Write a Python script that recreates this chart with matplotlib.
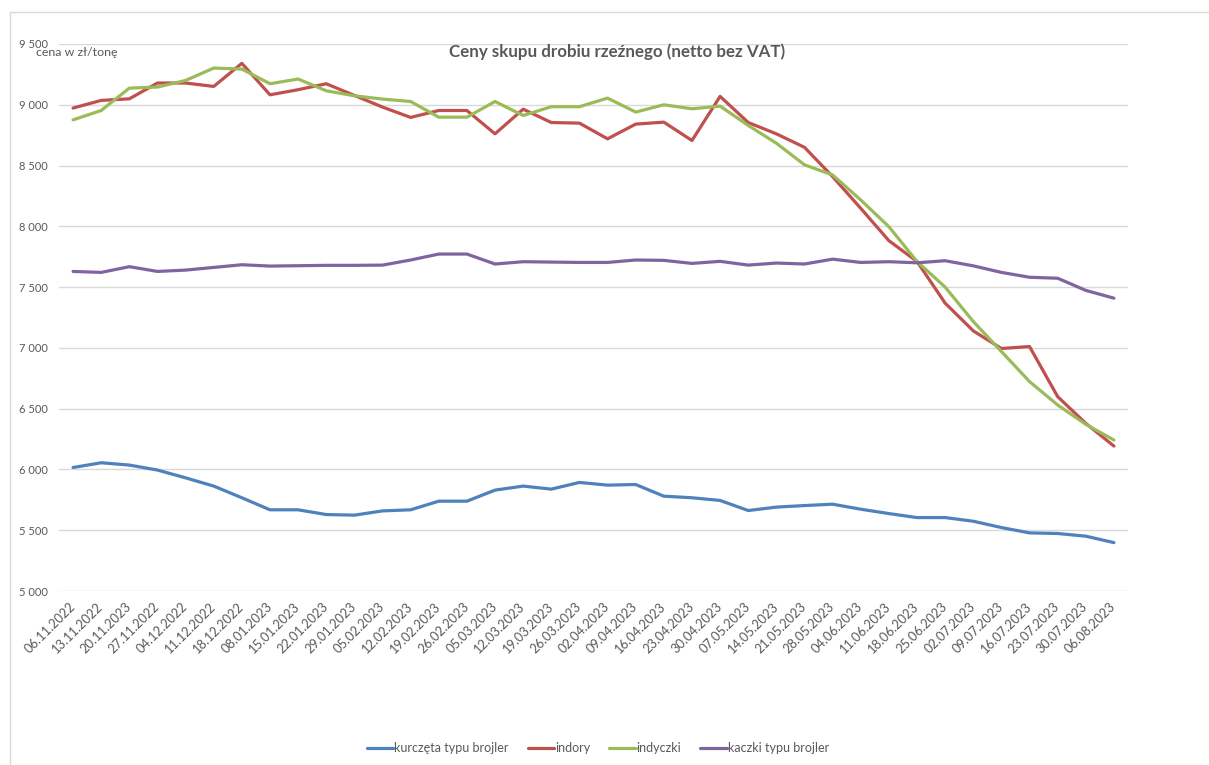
import matplotlib
matplotlib.use("Agg")
import matplotlib.pyplot as plt
from matplotlib.ticker import FuncFormatter
from matplotlib.lines import Line2D

# dane (zł/tonę)
daty = ["06.11.2022", "13.11.2022", "20.11.2023", "27.11.2022", "04.12.2022",
        "11.12.2022", "18.12.2022", "08.01.2023", "15.01.2023", "22.01.2023",
        "29.01.2023", "05.02.2023", "12.02.2023", "19.02.2023", "26.02.2023",
        "05.03.2023", "12.03.2023", "19.03.2023", "26.03.2023", "02.04.2023",
        "09.04.2023", "16.04.2023", "23.04.2023", "30.04.2023", "07.05.2023",
        "14.05.2023", "21.05.2023", "28.05.2023", "04.06.2023", "11.06.2023",
        "18.06.2023", "25.06.2023", "02.07.2023", "09.07.2023", "16.07.2023",
        "23.07.2023", "30.07.2023", "06.08.2023"]

kurczeta = [6016, 6055, 6036, 5995, 5931, 5863, 5767, 5668, 5668, 5629,
            5624, 5659, 5668, 5739, 5739, 5830, 5863, 5838, 5893, 5871,
            5876, 5780, 5767, 5745, 5662, 5690, 5703, 5714, 5673, 5637,
            5604, 5604, 5574, 5522, 5478, 5473, 5451, 5398]

indory = [8973, 9036, 9049, 9179, 9179, 9151, 9341, 9082, 9124, 9173,
          9077, 8981, 8896, 8953, 8953, 8761, 8964, 8854, 8849, 8720,
          8841, 8857, 8706, 9069, 8854, 8761, 8650, 8409, 8148, 7882,
          7711, 7368, 7140, 6995, 7011, 6599, 6379, 6192]

indyczki = [8876, 8953, 9137, 9146, 9200, 9302, 9294, 9173, 9212, 9115,
            9074, 9047, 9027, 8898, 8898, 9027, 8912, 8984, 8984, 9055,
            8940, 9000, 8967, 8989, 8830, 8684, 8506, 8423, 8217, 7997,
            7711, 7500, 7217, 6970, 6723, 6530, 6371, 6242]

kaczki = [7629, 7621, 7668, 7629, 7640, 7662, 7684, 7673, 7676, 7679,
          7679, 7681, 7723, 7772, 7772, 7690, 7709, 7706, 7703, 7703,
          7723, 7720, 7695, 7712, 7681, 7698, 7690, 7730, 7703, 7709,
          7700, 7717, 7675, 7621, 7581, 7573, 7473, 7409]

serie = [("kurczęta typu brojler", kurczeta, "#4F81BD"),
         ("indory", indory, "#C0504D"),
         ("indyczki", indyczki, "#9BBB59"),
         ("kaczki typu brojler", kaczki, "#8064A2")]

plt.rcParams["font.family"] = ["Lato", "DejaVu Sans"]
szary = "#595959"

W, H = 1209, 765
fig = plt.figure(figsize=(W / 100, H / 100), dpi=100)
ax = fig.add_axes([59 / W, 1 - 591 / H, (1128 - 59) / W, (591 - 44) / H])

x = list(range(len(daty)))
for nazwa, wartosci, kolor in serie:
    ax.plot(x, wartosci, color=kolor, lw=2.3, label=nazwa,
            solid_joinstyle="round", solid_capstyle="round")

ax.set_xlim(-0.5, len(daty) - 0.5)
ax.set_ylim(5000, 9500)
ax.set_yticks(range(5000, 9501, 500))
ax.yaxis.set_major_formatter(FuncFormatter(lambda v, p: f"{int(v):,}".replace(",", " ")))
ax.grid(axis="y", color="#D9D9D9", lw=1)
ax.set_axisbelow(True)
for s in ax.spines.values():
    s.set_visible(False)

ax.set_xticks(x)
ax.set_xticklabels(daty, rotation=45, ha="right", va="center",
                   rotation_mode="anchor", fontsize=9.3, color=szary)
ax.tick_params(axis="x", length=0, pad=10)
ax.tick_params(axis="y", length=0, pad=8, labelsize=8, labelcolor=szary)

fig.text(617 / W, 1 - 52 / H, "Ceny skupu drobiu rzeźnego (netto bez VAT)",
         ha="center", va="center", fontsize=12.2, fontweight="bold", color=szary)
fig.text(36 / W, 1 - 53 / H, "cena w zł/tonę", ha="left", va="center",
         fontsize=8.9, color=szary)

leg = fig.legend(loc="center", bbox_to_anchor=(598 / W, 1 - 748 / H), ncol=4,
                 frameon=False, fontsize=9, handlelength=2.1,
                 handletextpad=0.1, columnspacing=1.5)
for t in leg.get_texts():
    t.set_color(szary)

# ramka obszaru wykresu
kolor_ramki = "#D9D9D9"
fig.add_artist(Line2D([10 / W, 1], [1 - 12 / H, 1 - 12 / H], color=kolor_ramki, lw=1))
fig.add_artist(Line2D([10 / W, 10 / W], [0, 1 - 12 / H], color=kolor_ramki, lw=1))

fig.savefig("out.png", dpi=100)
